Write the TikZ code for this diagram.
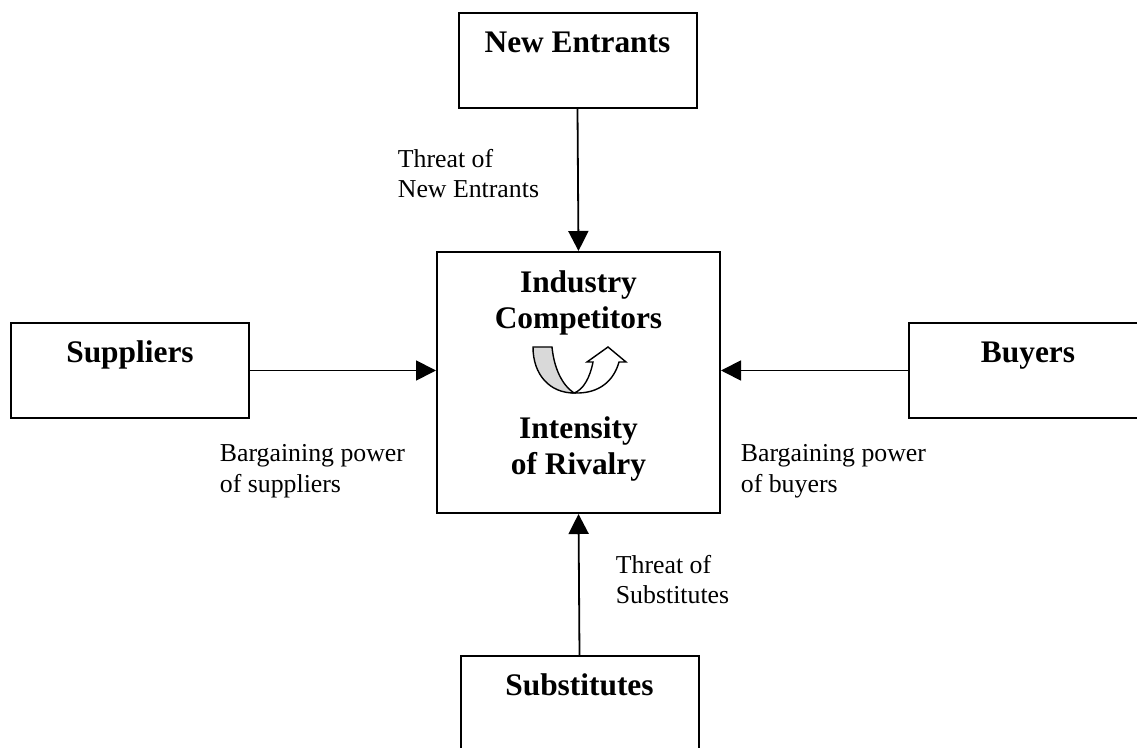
\documentclass[tikz,border=0pt]{standalone}
\usepackage{fontspec}
\setmainfont{Liberation Serif}
\usepackage{tikz}
\usetikzlibrary{arrows.meta,positioning,calc}
\tikzset{
  >={Triangle[length=10pt,width=10pt]},
  every picture/.append style={line width=0.9pt},
}
\tikzset{
  force/.style={draw, line width=1pt, minimum width=119pt, minimum height=47.5pt, inner sep=0pt},
  arrow/.style={->, line width=0.9pt}
}

\begin{document}
\begin{tikzpicture}[
  x=0.5pt, y=-0.5pt,
  title/.style ={font=\fontsize{15.7}{18}\selectfont\bfseries, inner sep=0pt, align=center},
  note/.style  ={font=\fontsize{12.9}{15.2}\selectfont, inner sep=0pt, align=left, anchor=north west},
  core/.style  ={draw, line width=1pt, minimum width=141.5pt, minimum height=130.5pt, inner sep=0pt},
  bandL/.style ={draw, line width=0.7pt, fill=black!15},
  bandR/.style ={draw, line width=0.7pt, fill=white}
]

% page frame
\clip (0,0) rectangle (1137,748);

% central box
\node[core] (rivalry) at (578.5,382.5) {};
\node[title, anchor=north] (rivalryT) at ([yshift=-9.5pt]rivalry.north) {Industry\\Competitors};
\node[title, anchor=north] (rivalryB) at ([yshift=-16.75pt]rivalry.center) {Intensity\\of Rivalry};

% the four forces
\node[force] (entrants) at (577.5,60.5) {};
\node[force] (suppliers) at (130,370.5) {};
\node[force] (buyers) at (1028,370.5) {};
\node[force] (substitutes) at (579.5,703.5) {};

\node[title, anchor=base] (entrantsT) at ([yshift=-20.5pt]entrants.north) {New Entrants};
\node[title, anchor=base] (suppliersT) at ([yshift=-20.5pt]suppliers.north) {Suppliers};
\node[title, anchor=base] (buyersT) at ([yshift=-20.5pt]buyers.north) {Buyers};
\node[title, anchor=base] (substitutesT) at ([yshift=-20.5pt]substitutes.north) {Substitutes};

% arrows into the centre
\draw[arrow] (entrants.south) -- (rivalry.north);
\draw[arrow] (substitutes.north) -- (rivalry.south);
\draw[arrow] (suppliers.east) -- (suppliers.east -| rivalry.west);
\draw[arrow] (buyers.west) -- (buyers.west -| rivalry.east);

% labels
\node[note] (entrantsL) at (397,148) {Threat of\\New Entrants};
\node[note] (suppliersL) at (219,444) {Bargaining power\\of suppliers};
\node[note] (buyersL) at (740,444) {Bargaining power\\of buyers};
\node[note] (substitutesL) at (615,554) {Threat of\\Substitutes};

% rivalry sign
\draw[bandL] (533,347) -- (552,347) .. controls (554,368) and (562,385) .. (574,393)
  .. controls (550,393) and (533,375) .. (533,347) -- cycle;
\draw[bandR] (574,393) .. controls (600,394) and (614,380) .. (619,362)
  -- (626,362) -- (608,347) -- (587,362) -- (593,362)
  .. controls (590,378) and (583,390) .. (574,393) -- cycle;

\end{tikzpicture}
\end{document}
